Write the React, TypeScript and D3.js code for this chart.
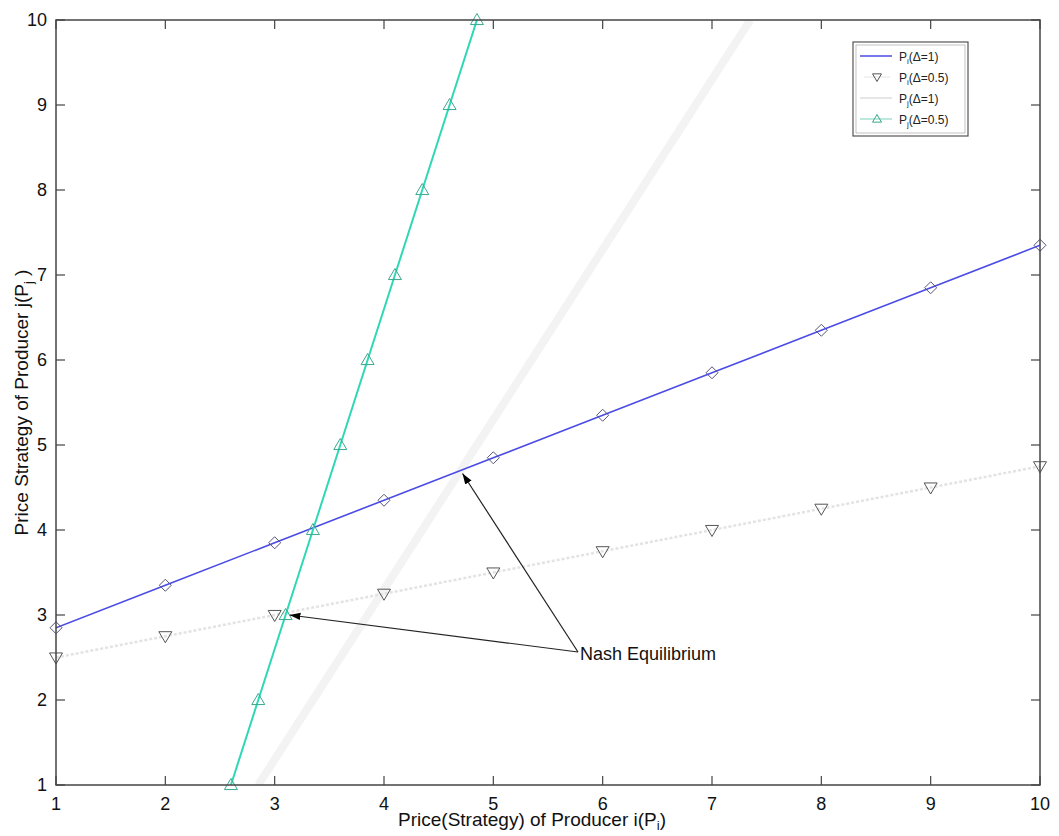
import React from "react";
import * as d3 from "d3";

const xTicks = [1, 2, 3, 4, 5, 6, 7, 8, 9, 10];
const yTicks = [1, 2, 3, 4, 5, 6, 7, 8, 9, 10];

// P_i(Δ=1): blue, diamonds (x = Pi, y = Pj)
const s1X = [1, 2, 3, 4, 5, 6, 7, 8, 9, 10];
const s1Y = [2.85, 3.35, 3.85, 4.35, 4.85, 5.35, 5.85, 6.35, 6.85, 7.35];
// P_i(Δ=0.5): faint line, down triangles
const s2X = [1, 2, 3, 4, 5, 6, 7, 8, 9, 10];
const s2Y = [2.5, 2.75, 3.0, 3.25, 3.5, 3.75, 4.0, 4.25, 4.5, 4.75];
// P_j(Δ=1): very faint line
const s3X = [2.85, 3.35, 3.85, 4.35, 4.85, 5.35, 5.85, 6.35, 6.85, 7.35];
const s3Y = [1, 2, 3, 4, 5, 6, 7, 8, 9, 10];
// P_j(Δ=0.5): teal, up triangles
const s4X = [2.6, 2.85, 3.1, 3.35, 3.6, 3.85, 4.1, 4.35, 4.6, 4.85];
const s4Y = [1, 2, 3, 4, 5, 6, 7, 8, 9, 10];

const nashPoints = [
  [4.7, 4.7],
  [3.1, 3.0],
];

const L = 56, R = 1040, T = 20, B = 785;
const FONT = "'Liberation Sans', Arial, sans-serif";

export default function App() {
  const x = d3.scaleLinear().domain([1, 10]).range([L, R]);
  const y = d3.scaleLinear().domain([1, 10]).range([B, T]);
  const line = d3
    .line<[number, number]>()
    .x((d) => x(d[0]))
    .y((d) => y(d[1]));
  const zip = (a: number[], b: number[]) => a.map((v, i) => [v, b[i]] as [number, number]);

  const d1 = zip(s1X, s1Y);
  const d2 = zip(s2X, s2Y);
  const d3d = zip(s3X, s3Y);
  const d4 = zip(s4X, s4Y);

  const diamond = (cx: number, cy: number, r = 6) =>
    `M${cx},${cy - r}L${cx + r},${cy}L${cx},${cy + r}L${cx - r},${cy}Z`;
  const triDown = (cx: number, cy: number, r = 6.5) =>
    `M${cx - r},${cy - r * 0.7}L${cx + r},${cy - r * 0.7}L${cx},${cy + r}Z`;
  const triUp = (cx: number, cy: number, r = 6.5) =>
    `M${cx - r},${cy + r * 0.7}L${cx + r},${cy + r * 0.7}L${cx},${cy - r}Z`;

  const teal = "#2ed8b6";
  const blue = "#4b4be6";
  const textAnchor = [578, 652];

  return (
    <svg
      width={1059}
      height={836}
      style={{ position: "absolute", left: 0, top: 0, background: "#fff" }}
      fontFamily={FONT}
    >
      <defs>
        <clipPath id="plotClip">
          <rect x={L} y={T} width={R - L} height={B - T} />
        </clipPath>
        <marker id="arrow" viewBox="0 0 10 10" refX="10" refY="5" markerWidth="9" markerHeight="9" orient="auto">
          <path d="M0,1.5L10,5L0,8.5Z" fill="#000" />
        </marker>
      </defs>
      <rect x={0} y={0} width={1059} height={836} fill="#fff" />

      <g clipPath="url(#plotClip)">
        {/* faint P_j(Δ=1) */}
        <path d={line(d3d) || ""} fill="none" stroke="#f3f3f3" strokeWidth={8} />
        {/* faint P_i(Δ=0.5) */}
        <path d={line(d2) || ""} fill="none" stroke="#e3e3e3" strokeWidth={2.5} strokeDasharray="3,2" />
        {/* P_i(Δ=1) */}
        <path d={line(d1) || ""} fill="none" stroke={blue} strokeWidth={1.6} />
        {/* P_j(Δ=0.5) */}
        <path d={line(d4) || ""} fill="none" stroke={teal} strokeWidth={2} />
      </g>

      {d1.map((p, i) => (
        <path key={"d" + i} d={diamond(x(p[0]), y(p[1]))} fill="none" stroke="#55557a" strokeWidth={1} />
      ))}
      {d2.map((p, i) => (
        <path key={"t" + i} d={triDown(x(p[0]), y(p[1]))} fill="none" stroke="#555" strokeWidth={1} />
      ))}
      {d4.map((p, i) => (
        <path key={"u" + i} d={triUp(x(p[0]), y(p[1]))} fill="none" stroke="#3aa88e" strokeWidth={1} />
      ))}

      {/* axes box */}
      <rect x={L} y={T} width={R - L} height={B - T} fill="none" stroke="#444" strokeWidth={1.5} />
      {xTicks.map((t) => (
        <g key={"xt" + t}>
          <line x1={x(t)} x2={x(t)} y1={B} y2={B - 9} stroke="#444" strokeWidth={1.2} />
          <line x1={x(t)} x2={x(t)} y1={T} y2={T + 9} stroke="#444" strokeWidth={1.2} />
          <text x={x(t)} y={810} fontSize={18} textAnchor="middle" fill="#111">
            {t}
          </text>
        </g>
      ))}
      {yTicks.map((t) => (
        <g key={"yt" + t}>
          <line x1={L} x2={L + 9} y1={y(t)} y2={y(t)} stroke="#444" strokeWidth={1.2} />
          <line x1={R} x2={R - 9} y1={y(t)} y2={y(t)} stroke="#444" strokeWidth={1.2} />
          <text x={47} y={y(t) + 6} fontSize={18} textAnchor="end" fill="#111">
            {t}
          </text>
        </g>
      ))}

      {/* axis labels */}
      <text x={532} y={826} fontSize={19} textAnchor="middle" fill="#111">
        Price(Strategy) of Producer i(P
        <tspan fontSize={13} dy={4}>i</tspan>
        <tspan dy={-4}>)</tspan>
      </text>
      <text
        transform={`translate(28,${(T + B) / 2}) rotate(-90)`}
        fontSize={19}
        textAnchor="middle"
        fill="#111"
      >
        Price Strategy of Producer j(P
        <tspan fontSize={13} dy={5}>j</tspan>
        <tspan dy={-5}> )</tspan>
      </text>

      {/* annotations */}
      {nashPoints.map((p, i) => (
        <line
          key={"a" + i}
          x1={textAnchor[0]}
          y1={textAnchor[1]}
          x2={x(p[0]) + (i === 0 ? 2 : 4)}
          y2={y(p[1]) + (i === 0 ? 3 : 0)}
          stroke="#222"
          strokeWidth={1.2}
          markerEnd="url(#arrow)"
        />
      ))}
      <text x={580} y={660} fontSize={18} fill="#111">
        Nash Equilibrium
      </text>

      {/* legend */}
      <rect x={853} y={42} width={115} height={94} fill="#fff" stroke="#555" strokeWidth={1.2} />
      <rect x={856} y={45} width={109} height={88} fill="none" stroke="#999" strokeWidth={0.6} />
      {[
        { sub: "i", lbl: "(Δ=1)", y: 58 },
        { sub: "i", lbl: "(Δ=0.5)", y: 79 },
        { sub: "j", lbl: "(Δ=1)", y: 100 },
        { sub: "j", lbl: "(Δ=0.5)", y: 121 },
      ].map((e, i) => (
        <g key={"lg" + i}>
          {i === 0 && <line x1={860} x2={892} y1={e.y - 2} y2={e.y - 2} stroke={blue} strokeWidth={1.5} />}
          {i === 1 && <line x1={864} x2={890} y1={e.y - 2} y2={e.y - 2} stroke="#e4e4e4" strokeWidth={1} />}
          {i === 1 && <path d={triDown(877, e.y - 2, 4.5)} fill="none" stroke="#555" strokeWidth={1} />}
          {i === 2 && <line x1={860} x2={892} y1={e.y - 2} y2={e.y - 2} stroke="#e6e6e6" strokeWidth={2} />}
          {i === 3 && <line x1={860} x2={892} y1={e.y - 2} y2={e.y - 2} stroke="#8fd8c6" strokeWidth={1.2} />}
          {i === 3 && <path d={triUp(877, e.y - 2, 4.5)} fill="none" stroke="#3aa88e" strokeWidth={1} />}
          <text x={899} y={e.y + 3} fontSize={12} fill="#222">
            P<tspan fontSize={8} dy={3}>{e.sub}</tspan>
            <tspan dy={-3}>{e.lbl}</tspan>
          </text>
        </g>
      ))}
    </svg>
  );
}
